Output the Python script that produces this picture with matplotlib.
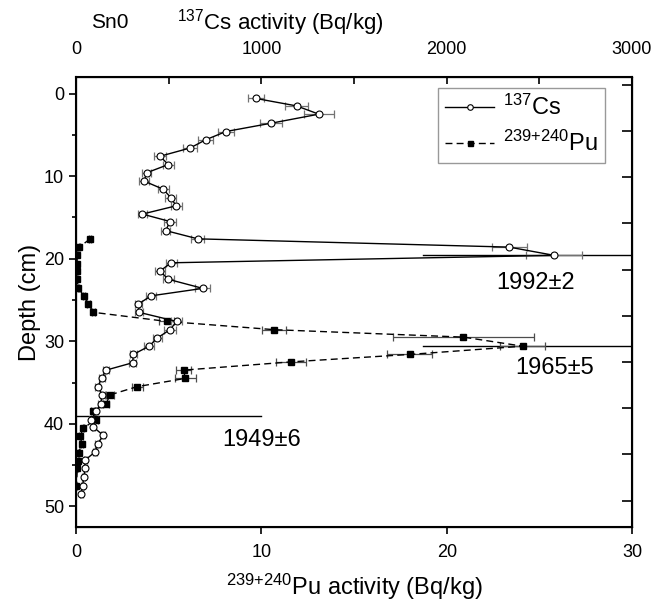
import matplotlib.pyplot as plt
from matplotlib.ticker import MultipleLocator, NullFormatter

plt.rcParams['font.family'] = ['Liberation Sans', 'DejaVu Sans']
plt.rcParams['mathtext.fontset'] = 'custom'
plt.rcParams['mathtext.rm'] = 'Liberation Sans'
plt.rcParams['mathtext.it'] = 'Liberation Sans:italic'
plt.rcParams['mathtext.bf'] = 'Liberation Sans:bold'

# 137Cs profile (depth in cm, activity in Bq/kg)
cs_depth = [0.6, 1.5, 2.5, 3.6, 4.6, 5.6, 6.6, 7.6, 8.6, 9.6, 10.6, 11.6, 12.6, 13.6,
            14.6, 15.5, 16.6, 17.6, 18.6, 19.6, 20.5, 21.5, 22.5, 23.6, 24.5, 25.5,
            26.5, 27.6, 28.6, 29.6, 30.6, 31.6, 32.6, 33.5, 34.5, 35.5, 36.5, 37.6,
            38.5, 39.5, 40.4, 41.4, 42.4, 43.4, 44.4, 45.4, 46.4, 47.5, 48.5]
cs_act = [971, 1190, 1310, 1052, 809, 700, 615, 453, 498, 381, 367, 471, 511, 540,
          358, 507, 484, 657, 2337, 2580, 513, 453, 498, 684, 405, 336,
          340, 543, 507, 439, 394, 309, 306, 162, 139, 117, 142, 133,
          108, 81, 94, 147, 117, 103, 49, 49, 42, 36, 27]
cs_err = [45, 60, 80, 60, 45, 40, 40, 30, 30, 25, 25, 30, 30, 30,
          25, 30, 25, 35, 95, 150, 30, 25, 30, 40, 25, 20,
          20, 30, 30, 25, 25, 20, 20, 15, 15, 12, 12, 12,
          12, 10, 10, 12, 12, 10, 8, 8, 8, 8, 8]

# 239+240Pu profile
pu_depth = [17.6, 18.6, 19.6, 20.6, 21.5, 22.5, 23.6, 24.5, 25.5, 26.5, 27.6, 28.6,
            29.5, 30.6, 31.6, 32.5, 33.5, 34.5, 35.5, 36.5, 37.6, 38.5, 39.5, 40.5,
            41.5, 42.4, 43.5, 44.5, 45.4, 47.5]
pu_act = [0.76, 0.18, 0.05, 0.05, 0.07, 0.05, 0.13, 0.42, 0.67, 0.94, 4.9, 10.7,
          20.9, 24.1, 18.0, 11.6, 5.8, 5.9, 3.3, 1.83, 1.62, 0.9, 1.08, 0.4,
          0.22, 0.31, 0.15, 0.13, 0.07, 0.02]
pu_err = [0.05, 0.03, 0.02, 0.02, 0.02, 0.02, 0.03, 0.05, 0.06, 0.08, 0.4, 0.65,
          3.8, 1.2, 1.2, 0.8, 0.4, 0.55, 0.3, 0.2, 0.15, 0.1, 0.12, 0.05,
          0.04, 0.05, 0.03, 0.03, 0.02, 0.01]

# dating horizons
cs_date_depth = 19.6
cs_date_x = [1873, 3000]
cs_date_label = '1992±2'
cs_label_pos = (2270, 22.9)

pu_date_depth = [30.6, 39.0]
pu_date_x = [[18.7, 30], [0, 10]]
pu_date_label = ['1965±5', '1949±6']
pu_label_pos = [(23.7, 33.3), (7.9, 42.0)]

fig = plt.figure(figsize=(6.6, 6.03), dpi=100)
ax = fig.add_axes([0.1152, 0.126, 0.8424, 0.7463])

# Pu on bottom axis
ax.errorbar(pu_act, pu_depth, xerr=pu_err, fmt='none', ecolor='0.3',
            elinewidth=0.9, capsize=3, capthick=0.9, zorder=2)
pu_line, = ax.plot(pu_act, pu_depth, color='black', linestyle=(0, (5, 3)),
                   linewidth=1.0, marker='s', markersize=4.5, markerfacecolor='black',
                   markeredgecolor='black', zorder=3)
for d, xr in zip(pu_date_depth, pu_date_x):
    ax.plot(xr, [d, d], color='black', linewidth=1.0, zorder=1)
for lab, pos in zip(pu_date_label, pu_label_pos):
    ax.text(pos[0], pos[1], lab, fontsize=17, ha='left', va='center')

ax.set_xlim(0, 30)
ax.set_ylim(52.5, -2)
ax.xaxis.set_major_locator(MultipleLocator(10))
ax.yaxis.set_major_locator(MultipleLocator(10))
ax.yaxis.set_minor_locator(MultipleLocator(5))
ax.tick_params(axis='both', which='major', direction='out', length=5, width=1.2,
               labelsize=13, top=False, right=False)
ax.tick_params(axis='x', which='major', pad=7)
ax.tick_params(axis='y', which='minor', direction='out', length=3, width=1.2)
ax.set_xlabel('$^{\\text{239+240}}$Pu activity (Bq/kg)', fontsize=17, labelpad=8)
ax.set_ylabel('Depth (cm)', fontsize=17, labelpad=2)
for s in ax.spines.values():
    s.set_linewidth(1.5)

# Cs on top axis
axc = ax.twiny()
axc.errorbar(cs_act, cs_depth, xerr=cs_err, fmt='none', ecolor='0.45',
             elinewidth=0.9, capsize=3, capthick=0.9, zorder=2)
cs_line, = axc.plot(cs_act, cs_depth, color='black', linestyle='-', linewidth=1.0,
                    marker='o', markersize=5, markerfacecolor='white',
                    markeredgecolor='black', markeredgewidth=0.8, zorder=3)
axc.plot(cs_date_x, [cs_date_depth, cs_date_depth], color='black', linewidth=1.0,
         zorder=1)
axc.text(cs_label_pos[0], cs_label_pos[1], cs_date_label, fontsize=17,
         ha='left', va='center')
axc.set_xlim(0, 3000)
axc.xaxis.set_major_locator(MultipleLocator(1000))
axc.xaxis.set_minor_locator(MultipleLocator(500))
axc.tick_params(axis='x', which='major', direction='in', length=5, width=1.2,
                labelsize=13, pad=14)
axc.tick_params(axis='x', which='minor', direction='in', length=5, width=1.2)

# right side ticks, no labels
axr = ax.twinx()
axr.set_ylim(9.57, -0.17)
axr.yaxis.set_major_locator(MultipleLocator(1))
axr.yaxis.set_major_formatter(NullFormatter())
axr.tick_params(axis='y', direction='in', length=7, width=1.2)

leg = axc.legend([cs_line, pu_line], ['$^{\\text{137}}$Cs', '$^{\\text{239+240}}$Pu'],
                 loc='upper right', bbox_to_anchor=(0.951, 0.976), borderaxespad=0,
                 fontsize=17, frameon=True, fancybox=False, handlelength=2.1,
                 handletextpad=0.35, borderpad=0.3, labelspacing=0.45,
                 markerscale=0.8)
leg.get_frame().set_edgecolor('0.5')
leg.get_frame().set_linewidth(1.0)

fig.text(0.167, 0.963, 'Sn0', fontsize=15, ha='center', va='center')
fig.text(0.424, 0.963, '$^{\\text{137}}$Cs activity (Bq/kg)', fontsize=16,
         ha='center', va='center')

fig.savefig('out.png', dpi=100)
